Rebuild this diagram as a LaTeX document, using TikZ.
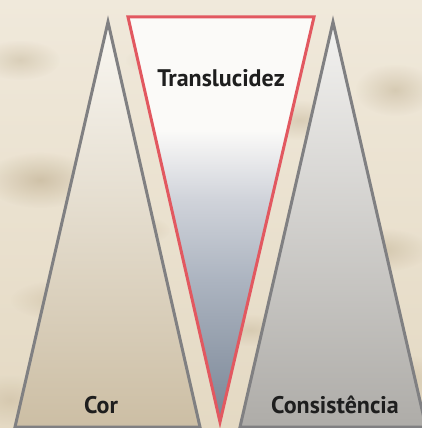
\documentclass[tikz,border=0pt]{standalone}
\usepackage{fontspec}
\usetikzlibrary{fadings}
\setmainfont{PT Sans}
\definecolor{bgA}{RGB}{240,233,219}
\definecolor{bgB}{RGB}{228,217,195}
\definecolor{spot}{RGB}{180,162,128}
\definecolor{edgegray}{RGB}{128,128,130}
\definecolor{edgered}{RGB}{226,88,96}
\definecolor{lefttop}{RGB}{249,247,242}
\definecolor{leftbot}{RGB}{204,190,164}
\definecolor{midtop}{RGB}{251,250,248}
\definecolor{midA}{RGB}{208,211,218}
\definecolor{midB}{RGB}{172,180,192}
\definecolor{midbot}{RGB}{122,134,150}
\definecolor{righttop}{RGB}{243,242,240}
\definecolor{rightbot}{RGB}{174,172,168}
\definecolor{txt}{RGB}{30,30,30}
\tikzfading[name=softblob, inner color=transparent!0, outer color=transparent!100]
\pgfdeclareverticalshading{midshade}{100bp}{color(0bp)=(midbot); color(25bp)=(midbot); color(42.5bp)=(midB); color(52.5bp)=(midA); color(61bp)=(midtop); color(100bp)=(midtop)}
\tikzset{
  tri/.style={line width=3pt, line join=miter},
  lbl/.style={font=\bfseries\fontsize{24}{28}\selectfont, text=txt, inner sep=0pt, anchor=base},
  blob/.style={fill=spot, path fading=softblob}
}
\begin{document}
\begin{tikzpicture}[x=1pt,y=-1pt]
\useasboundingbox (0,0) rectangle (422,428);
\begin{scope}
\clip (0,0) rectangle (422,428);
\shade[top color=bgA, bottom color=bgB] (0,0) rectangle (422,428);
\foreach \x/\y/\rx/\ry/\o in {40/180/55/28/0.5, 20/60/40/20/0.35, 120/230/50/18/0.45, 380/250/50/22/0.4, 300/120/45/20/0.35, 200/140/40/16/0.4, 60/300/50/20/0.35, 395/90/40/26/0.4, 170/60/45/16/0.3, 250/330/40/16/0.3, 10/400/40/25/0.3, 410/380/30/25/0.3}
  \fill[blob, opacity=\o] (\x,\y) ellipse [x radius=\rx, y radius=\ry];
\coordinate (la) at (108,22);
\coordinate (lb) at (15,427);
\coordinate (lc) at (200,427);
\coordinate (ra) at (333,22);
\coordinate (rb) at (240,427);
\coordinate (rc) at (426,427);
\coordinate (ma) at (128,17);
\coordinate (mb) at (314,17);
\coordinate (mc) at (220,422);
\shade[top color=lefttop, bottom color=leftbot] (la) -- (lb) -- (lc) -- cycle;
\draw[tri, edgegray] (la) -- (lb) -- (lc) -- cycle;
\shade[top color=righttop, bottom color=rightbot] (ra) -- (rb) -- (rc) -- cycle;
\draw[tri, edgegray] (ra) -- (rb) -- (rc) -- cycle;
\shade[shading=midshade] (ma) -- (mb) -- (mc) -- cycle;
\draw[tri, edgered] (ma) -- (mb) -- (mc) -- cycle;
\end{scope}
\node[lbl] (cor) at (101,413) {Cor};
\node[lbl] (cons) at (335,413) {Consistência};
\node[lbl] (trans) at (221,86) {Translucidez};
\end{tikzpicture}
\end{document}
